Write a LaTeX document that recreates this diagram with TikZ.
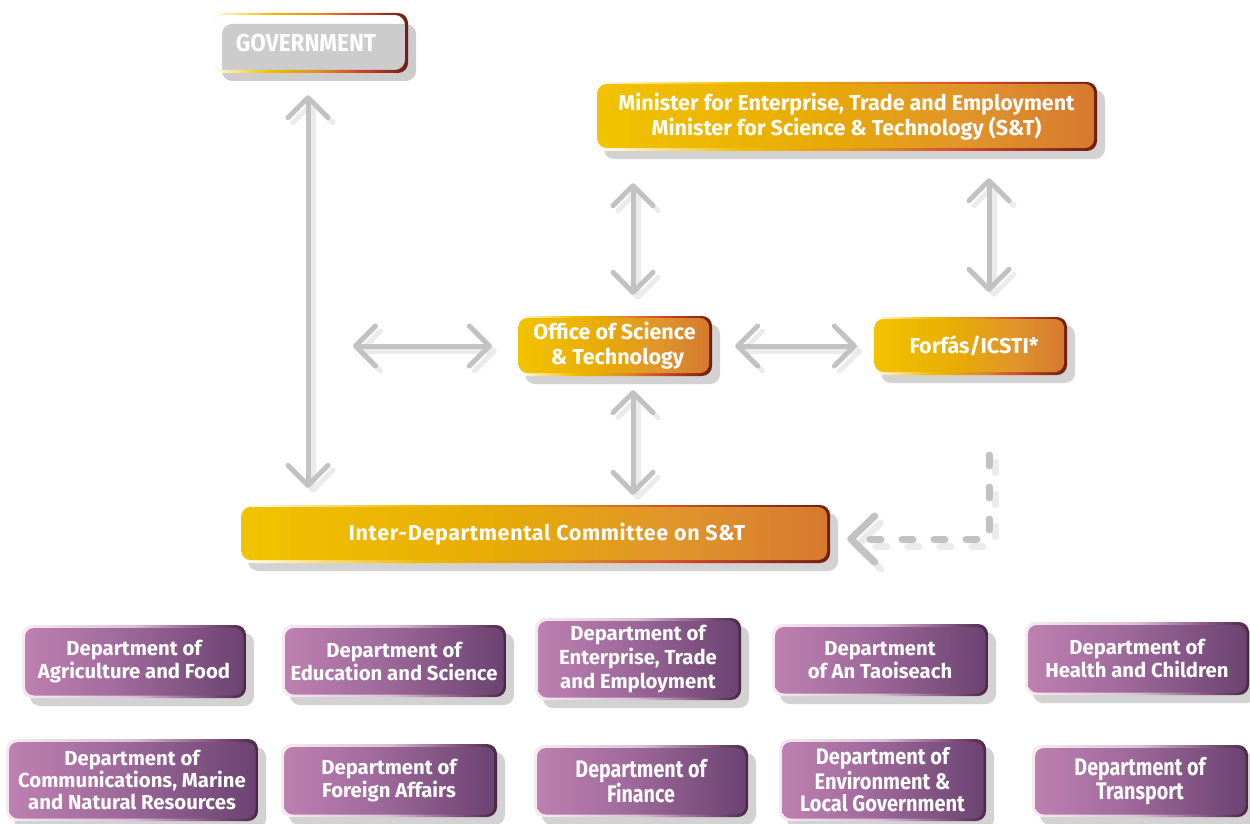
\documentclass[tikz,border=0pt]{standalone}
\usepackage{fontspec}
\setmainfont{Fira Sans}
\newfontfamily\condfont{Fira Sans}[FakeStretch=0.82]
\newfontfamily\envfont{Fira Sans}[FakeStretch=0.89]
\newfontfamily\govfont{Fira Sans}[FakeStretch=0.92]
\usetikzlibrary{arrows.meta}

\definecolor{cgray}{HTML}{C2C2C2}
\definecolor{cshadow}{HTML}{EBEBEB}
\definecolor{boxshadow}{HTML}{D2D2D2}
\definecolor{govgray}{HTML}{CCCCCC}

\definecolor{obA}{HTML}{FCE6A0}
\definecolor{obB}{HTML}{F0BC00}
\definecolor{obC}{HTML}{E09020}
\definecolor{obD}{HTML}{D2482A}
\definecolor{obE}{HTML}{6E1E14}
\definecolor{ofA}{HTML}{F2C300}
\definecolor{ofB}{HTML}{E8AB05}
\definecolor{ofC}{HTML}{E0952C}
\definecolor{ofD}{HTML}{D6792F}
\definecolor{pbA}{HTML}{F6EAF2}
\definecolor{pbB}{HTML}{D9BFD3}
\definecolor{pbC}{HTML}{8B5A88}
\definecolor{pbD}{HTML}{4A2747}
\definecolor{pfA}{HTML}{BD80B0}
\definecolor{pfB}{HTML}{A26C9E}
\definecolor{pfC}{HTML}{6B4371}

\pgfdeclarehorizontalshading{oborder}{100bp}{color(0bp)=(white); color(25bp)=(white); color(30bp)=(obA); color(40bp)=(obB); color(52bp)=(obC); color(62bp)=(obD); color(75bp)=(obE); color(100bp)=(obE)}
\pgfdeclarehorizontalshading{ofill}{100bp}{color(0bp)=(ofA); color(25bp)=(ofA); color(47bp)=(ofB); color(62bp)=(ofC); color(75bp)=(ofD); color(100bp)=(ofD)}
\pgfdeclarehorizontalshading{pborder}{100bp}{color(0bp)=(pbA); color(25bp)=(pbA); color(50bp)=(pbB); color(65bp)=(pbC); color(75bp)=(pbD); color(100bp)=(pbD)}
\pgfdeclarehorizontalshading{pfill}{100bp}{color(0bp)=(pfA); color(25bp)=(pfA); color(45bp)=(pfB); color(75bp)=(pfC); color(100bp)=(pfC)}

\tikzset{
  txt/.style={text=white, align=center, inner sep=0pt},
  ofont/.style={font=\bfseries\fontsize{21.5}{25}\selectfont},
  pfont/.style={font=\bfseries\fontsize{20.3}{23}\selectfont},
  pfontc/.style={font=\condfont\bfseries\fontsize{24}{24}\selectfont},
  tipb/.tip={Straight Barb[length=20pt,width=40pt,round]},
  conn/.style={draw=cgray, line width=5pt, line cap=round, tipb-tipb},
  connsh/.style={conn, draw=cshadow, transform canvas={shift={(5pt,-5pt)}}},
  dconn/.style={draw=cgray, line width=7pt, line cap=round, dash pattern=on 11pt off 21pt, -{Straight Barb[length=24pt,width=46pt,round]}},
  dconnsh/.style={dconn, draw=cshadow, transform canvas={shift={(6pt,-7pt)}}},
}

% orange box: name, x1, y1, x2, y2, style, text
\newcommand\obox[7]{%
  \fill[boxshadow, rounded corners=10pt] (#2+8,#3+8) rectangle (#4+8,#5+8);
  \shade[shading=oborder, rounded corners=10pt] (#2,#3) rectangle (#4,#5);
  \shade[shading=ofill, rounded corners=9pt] (#2+1.5,#3+2) rectangle (#4-3,#5-3);
  \node[txt, #6, minimum width={#4-#2}, minimum height={#5-#3}] (#1) at ({(#2+#4)/2},{(#3+#5)/2}) {#7};
}
% purple box
\newcommand\pbox[7]{%
  \fill[boxshadow, rounded corners=10pt] (#2+8,#3+8) rectangle (#4+8,#5+8);
  \shade[shading=pborder, rounded corners=10pt] (#2,#3) rectangle (#4,#5);
  \shade[shading=pfill, rounded corners=9pt] (#2+3,#3+3) rectangle (#4-2.5,#5-2.5);
  \node[txt, #6, minimum width={#4-#2}, minimum height={#5-#3}] (#1) at ({(#2+#4)/2},{(#3+#5)/2}) {#7};
}

\begin{document}
\begin{tikzpicture}[x=1pt, y=-1pt]
\useasboundingbox (0,0) rectangle (1250,824);

% GOVERNMENT
\fill[govgray, rounded corners=10pt] (222,24) rectangle (416,81);
\shade[shading=oborder, even odd rule, rounded corners=10pt] (212,13) rectangle (408,73) (213.5,15) rectangle (405,70);
\node[txt, font=\govfont\bfseries\fontsize{24.5}{25}\selectfont, text=white, minimum width=196, minimum height=60] (gov) at (310,43) {GOVERNMENT\hspace*{8pt}};

% orange boxes
\obox{minister}{596}{82}{1097}{151}{ofont}{Minister for Enterprise, Trade and Employment\\Minister for Science \& Technology (S\&T)}
\obox{office}{517}{316}{712}{376}{ofont}{Office of Science\\\hspace*{6pt}\& Technology}
\obox{forfas}{873}{317}{1067}{375}{ofont}{\hspace*{8pt}Forfás/ICSTI*}
\obox{inter}{240}{505}{830}{563}{ofont}{\hspace*{24pt}\addfontfeatures{LetterSpace=3}Inter-Departmental Committee on S\&T}

% purple boxes row 1
\pbox{agri}{22}{625}{246}{698}{pfont}{Department of\\Agriculture and Food}
\pbox{edu}{282}{625}{506}{697}{pfont}{Department of\\Education and Science}
\pbox{ent}{535}{618}{741}{700}{font=\bfseries\fontsize{20.3}{24}\selectfont}{Department of\\Enterprise, Trade\\and Employment}
\pbox{taoi}{772}{624}{988}{696}{pfont}{Department\\of An Taoiseach}
\pbox{health}{1025}{622}{1249}{695}{pfont}{Department of\\Health and Children}
% purple boxes row 2
\pbox{comm}{6}{739}{258}{821}{font=\bfseries\fontsize{20.3}{22}\selectfont}{Department of\\Communications, Marine\\and Natural Resources}
\pbox{foreign}{281}{744}{497}{817}{pfont}{Department of\\Foreign Affairs}
\pbox{finance}{534}{745}{748}{817}{pfontc}{Department of\\Finance}
\pbox{env}{779}{739}{986}{821}{font=\envfont\bfseries\fontsize{22.5}{22.5}\selectfont}{Department of\\Environment \&\\Local Government}
\pbox{transport}{1032}{745}{1248}{817}{pfontc}{Department of\\Transport}

% connectors
\coordinate (lft) at (353,346);
\coordinate (dstart) at (989,455);
\foreach \s in {connsh,conn}{
  \draw[\s, shorten <=22pt, shorten >=17pt] ([xshift=-2pt]gov.south) -- ([xshift=-2pt]gov.south |- inter.north);
  \draw[\s, shorten <=21pt, shorten >=32pt] ([xshift=18.5pt]office.north) -- ([xshift=18.5pt]office.north |- minister.south);
  \draw[\s, shorten <=25pt, shorten >=27pt] ([xshift=19pt]forfas.north) -- ([xshift=19pt]forfas.north |- minister.south);
  \draw[\s, shorten <=14pt, shorten >=10pt] ([xshift=18.5pt]office.south) -- ([xshift=18.5pt]office.south |- inter.north);
  \draw[\s, shorten >=25pt] (lft) -- (lft -| office.west);
  \draw[\s, shorten <=23pt, shorten >=16pt] (office.east) -- (office.east -| forfas.west);
}
\foreach \s in {dconnsh,dconn}{
  \draw[\s, shorten >=17pt] (dstart) |- ([yshift=-5pt]inter.east);
}
\end{tikzpicture}
\end{document}
